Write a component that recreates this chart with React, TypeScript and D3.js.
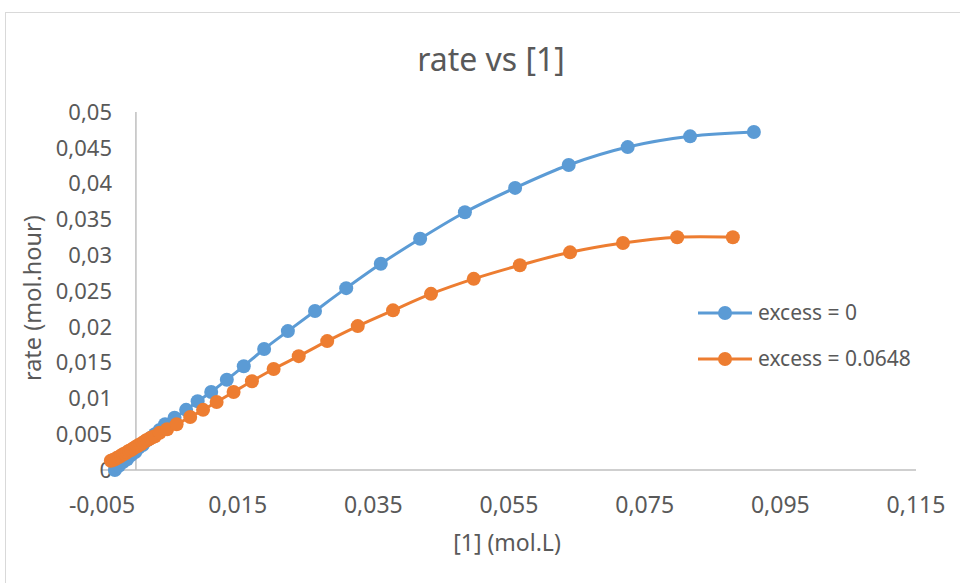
import React from "react";
import * as d3 from "d3";

const blueX = [-0.0031, -0.0025, -0.0019, -0.0013, -0.0007, -0.0001, 0.0004, 0.0010, 0.0016, 0.0022, 0.0028, 0.0035, 0.0043, 0.0057, 0.0074, 0.0091, 0.0111, 0.0134, 0.0159, 0.0189, 0.0224, 0.0264, 0.0310, 0.0361, 0.0419, 0.0485, 0.0559, 0.0638, 0.0725, 0.0817, 0.0911];
const blueY = [0.0000, 0.0006, 0.0011, 0.0015, 0.0021, 0.0025, 0.0031, 0.0035, 0.0041, 0.0045, 0.0050, 0.0056, 0.0064, 0.0073, 0.0084, 0.0096, 0.0109, 0.0126, 0.0145, 0.0169, 0.0194, 0.0222, 0.0254, 0.0288, 0.0323, 0.0360, 0.0394, 0.0426, 0.0451, 0.0466, 0.0472];

const orangeX = [-0.0037, -0.0034, -0.0031, -0.0028, -0.0025, -0.0022, -0.0019, -0.0016, -0.0013, -0.0010, -0.0007, -0.0004, -0.0001, 0.0002, 0.0004, 0.0007, 0.0010, 0.0013, 0.0016, 0.0019, 0.0022, 0.0025, 0.0028, 0.0035, 0.0046, 0.0060, 0.0080, 0.0099, 0.0119, 0.0144, 0.0171, 0.0203, 0.0240, 0.0282, 0.0327, 0.0379, 0.0435, 0.0498, 0.0566, 0.0640, 0.0718, 0.0798, 0.0880];
const orangeY = [0.0013, 0.0014, 0.0015, 0.0017, 0.0018, 0.0020, 0.0022, 0.0023, 0.0025, 0.0027, 0.0028, 0.0030, 0.0032, 0.0033, 0.0035, 0.0036, 0.0038, 0.0040, 0.0042, 0.0043, 0.0045, 0.0046, 0.0047, 0.0052, 0.0057, 0.0064, 0.0074, 0.0084, 0.0095, 0.0109, 0.0124, 0.0141, 0.0159, 0.0180, 0.0201, 0.0223, 0.0246, 0.0267, 0.0286, 0.0304, 0.0317, 0.0325, 0.0325];

const xTicks = [-0.005, 0.015, 0.035, 0.055, 0.075, 0.095, 0.115];
const yTicks = [0, 0.005, 0.01, 0.015, 0.02, 0.025, 0.03, 0.035, 0.04, 0.045, 0.05];

const seriesNames = ["excess = 0", "excess = 0.0648"];
const seriesColors = ["#5B9BD5", "#ED7D31"];

const FONT = "'Noto Sans', 'Open Sans', sans-serif";
const TXT = "#595959";

function fmt(v: number): string {
  if (v === 0) return "0";
  const s = String(parseFloat(v.toFixed(3)));
  return s.replace(".", ",");
}

export default function App() {
  const x = d3.scaleLinear().domain([-0.005, 0.115]).range([102, 916]);
  const y = d3.scaleLinear().domain([0, 0.05]).range([470, 112]);

  const series = [
    blueX.map((v, i) => [v, blueY[i]] as [number, number]),
    orangeX.map((v, i) => [v, orangeY[i]] as [number, number]),
  ];

  const line = d3
    .line<[number, number]>()
    .x((d) => x(d[0]))
    .y((d) => y(d[1]))
    .curve(d3.curveCatmullRom.alpha(0.5));

  const r = 7;

  return (
    <svg
      width={960}
      height={583}
      style={{ position: "absolute", left: 0, top: 0, background: "#fff" }}
      fontFamily={FONT}
    >
      <rect x={0} y={0} width={960} height={583} fill="#fff" />
      <rect x={5.5} y={12.5} width={1000} height={700} fill="#fff" stroke="#d9d9d9" strokeWidth={1} />

      <text x={491} y={71} textAnchor="middle" fontSize={32} fill={TXT}>
        rate vs [1]
      </text>

      {/* axes */}
      <line x1={x(-0.005)} x2={x(0.115)} y1={y(0)} y2={y(0)} stroke="#bfbfbf" strokeWidth={1.5} />
      <line x1={x(0)} x2={x(0)} y1={y(0)} y2={y(0.05)} stroke="#bfbfbf" strokeWidth={1.5} />

      {yTicks.map((t) => (
        <text key={"y" + t} x={112} y={y(t)} dy="0.35em" textAnchor="end" fontSize={22} fill={TXT}>
          {fmt(t)}
        </text>
      ))}
      {xTicks.map((t) => (
        <text key={"x" + t} x={x(t)} y={505} dy="0.35em" textAnchor="middle" fontSize={23} fill={TXT}>
          {fmt(t)}
        </text>
      ))}

      <text x={507} y={543} dy="0.35em" textAnchor="middle" fontSize={23} fill={TXT}>
        [1] (mol.L)
      </text>
      <text
        transform={`translate(33, ${y(0.024)}) rotate(-90)`}
        dy="0.35em"
        textAnchor="middle"
        fontSize={23.5}
        fill={TXT}
      >
        rate (mol.hour)
      </text>

      {series.map((pts, si) => (
        <g key={"s" + si}>
          <path d={line(pts) || ""} fill="none" stroke={seriesColors[si]} strokeWidth={3} />
          {pts.map((p, i) => (
            <circle key={i} cx={x(p[0])} cy={y(p[1])} r={r} fill={seriesColors[si]} />
          ))}
        </g>
      ))}

      {seriesNames.map((n, i) => {
        const ly = 313 + i * 46;
        return (
          <g key={"l" + i}>
            <line x1={698} x2={752} y1={ly} y2={ly} stroke={seriesColors[i]} strokeWidth={3} />
            <circle cx={725} cy={ly} r={r} fill={seriesColors[i]} />
            <text x={758} y={ly} dy="0.35em" fontSize={21} fill={TXT}>
              {n}
            </text>
          </g>
        );
      })}
    </svg>
  );
}
